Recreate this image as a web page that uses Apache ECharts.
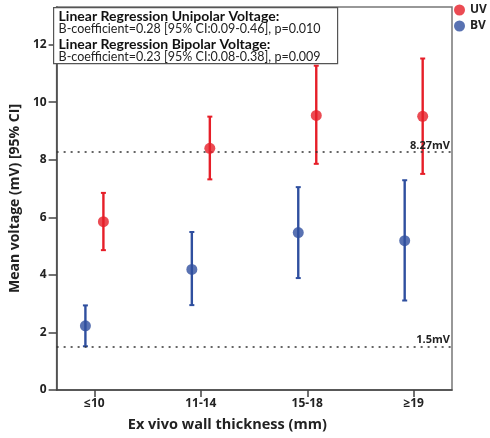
<!DOCTYPE html>
<html>
<head>
<meta charset="utf-8">
<script src="https://cdn.jsdelivr.net/npm/echarts@6/dist/echarts.min.js"></script>
<style>
  html, body { margin: 0; padding: 0; background: #fff; }
  #chart { width: 490px; height: 438px; }
</style>
</head>
<body>
<div id="chart"></div>
<script>
// Wall-thickness groups and mean voltages with 95% CI
const categories = ['≤10', '11-14', '15-18', '≥19'];
const uvMean = [5.85, 8.40, 9.54, 9.51];
const uvLow  = [4.86, 7.32, 7.86, 7.51];
const uvHigh = [6.85, 9.50, 11.27, 11.52];
const bvMean = [2.23, 4.19, 5.47, 5.19];
const bvLow  = [1.52, 2.95, 3.89, 3.11];
const bvHigh = [2.94, 5.49, 7.05, 7.29];
const yTicks = [0, 2, 4, 6, 8, 10, 12];
const refLines = [
  { value: 8.27, label: '8.27mV' },
  { value: 1.5, label: '1.5mV' }
];
const statLines = [
  'Linear Regression Unipolar Voltage:',
  'B-coefficient=0.28 [95% CI:0.09-0.46], p=0.010',
  'Linear Regression Bipolar Voltage:',
  'B-coefficient=0.23 [95% CI:0.08-0.38], p=0.009'
];

const RED = '#e61e28';
const BLUE = '#2f4f9f';
const FONT = 'Open Sans';
const BOX_FONT = 'Lato';
const UV_SHIFT = 9;   // horizontal dodge in px
const BV_SHIFT = -9;

const xs = categories.map((c, i) => i + 1);

function points(mean) { return mean.map((m, i) => [xs[i], m]); }
function ranges(lo, hi) { return lo.map((l, i) => [xs[i], l, hi[i]]); }

function errorBar(color, dx) {
  return function (params, api) {
    const x = api.value(0);
    const lo = api.coord([x, api.value(1)]);
    const hi = api.coord([x, api.value(2)]);
    const cx = lo[0] + dx;
    const cap = 2.5;
    return {
      type: 'group',
      children: [
        { type: 'line', shape: { x1: cx, y1: lo[1], x2: cx, y2: hi[1] }, style: { stroke: color, lineWidth: 2.4 } },
        { type: 'line', shape: { x1: cx - cap, y1: lo[1], x2: cx + cap, y2: lo[1] }, style: { stroke: color, lineWidth: 2 } },
        { type: 'line', shape: { x1: cx - cap, y1: hi[1], x2: cx + cap, y2: hi[1] }, style: { stroke: color, lineWidth: 2 } }
      ]
    };
  };
}

const chart = echarts.init(document.getElementById('chart'), null, { renderer: 'canvas' });

chart.setOption({
  animation: false,
  textStyle: { fontFamily: FONT },
  grid: {
    left: 54, right: 38, top: 7, bottom: 48,
    show: true, borderColor: '#777', borderWidth: 1.5, backgroundColor: 'transparent'
  },
  legend: {
    orient: 'vertical',
    left: 454, top: 4,
    padding: 0,
    itemWidth: 11, itemHeight: 11, itemGap: 4,
    icon: 'circle',
    textStyle: { fontFamily: FONT, fontWeight: 'bold', fontSize: 12, color: '#222' },
    data: ['UV', 'BV']
  },
  xAxis: {
    type: 'value',
    min: 0.645, max: 4.36,
    splitLine: { show: false },
    axisLine: { lineStyle: { color: '#444', width: 1.5 } },
    axisTick: { show: true, length: 7, lineStyle: { color: '#444', width: 1.5 }, customValues: xs },
    axisLabel: {
      customValues: xs,
      formatter: v => categories[Math.round(v) - 1] || '',
      fontFamily: FONT, fontWeight: 'bold', fontSize: 12, color: '#222', margin: 8
    },
    name: 'Ex vivo wall thickness (mm)',
    nameLocation: 'middle',
    nameGap: 27,
    nameTextStyle: { fontFamily: FONT, fontWeight: 'bold', fontSize: 14.5, color: '#222', padding: [0, 54, 0, 0] }
  },
  yAxis: {
    type: 'value',
    min: 0, max: 13.31,
    splitLine: { show: false },
    axisLine: { show: true, lineStyle: { color: '#444', width: 1.5 } },
    axisTick: { show: true, length: 8, lineStyle: { color: '#444', width: 1.5 }, customValues: yTicks },
    axisLabel: {
      customValues: yTicks,
      fontFamily: FONT, fontWeight: 'bold', fontSize: 12, color: '#222', margin: 10
    },
    name: 'Mean voltage (mV) [95% CI]',
    nameLocation: 'middle',
    nameGap: 30,
    nameTextStyle: { fontFamily: FONT, fontWeight: 'bold', fontSize: 14, color: '#222' }
  },
  graphic: [
    {
      type: 'group', left: 53, top: 7,
      children: [
        { type: 'rect', shape: { x: 0, y: 0, width: 284, height: 56 },
          style: { fill: '#fff', stroke: '#555', lineWidth: 1.2 }, z: 10 },
        { type: 'text', x: 5, y: 2, z: 11,
          style: { text: statLines[0], font: 'bold 14px ' + BOX_FONT, fill: '#111' } },
        { type: 'text', x: 5, y: 15, z: 11,
          style: { text: statLines[1], font: '12.5px ' + BOX_FONT, fill: '#222' } },
        { type: 'text', x: 5, y: 30, z: 11,
          style: { text: statLines[2], font: 'bold 14px ' + BOX_FONT, fill: '#111' } },
        { type: 'text', x: 5, y: 43, z: 11,
          style: { text: statLines[3], font: '12.5px ' + BOX_FONT, fill: '#222' } }
      ]
    }
  ],
  series: [
    {
      type: 'custom',
      name: 'UV range',
      renderItem: errorBar(RED, UV_SHIFT),
      data: ranges(uvLow, uvHigh),
      encode: { x: 0, y: [1, 2] },
      z: 2,
      markLine: {
        silent: true,
        symbol: 'none',
        lineStyle: { color: '#333', type: [2, 5], width: 1.6 },
        label: {
          position: 'insideEndTop',
          formatter: p => p.data.text,
          fontFamily: FONT, fontWeight: 'bold', fontSize: 11, color: '#222',
          distance: [2, 1]
        },
        data: refLines.map(r => ({ yAxis: r.value, text: r.label }))
      }
    },
    {
      type: 'custom',
      name: 'BV range',
      renderItem: errorBar(BLUE, BV_SHIFT),
      data: ranges(bvLow, bvHigh),
      encode: { x: 0, y: [1, 2] },
      z: 2
    },
    {
      type: 'scatter',
      name: 'UV',
      data: points(uvMean),
      symbol: 'circle',
      symbolSize: 11,
      symbolOffset: [UV_SHIFT, 0],
      itemStyle: { color: RED },
      z: 5
    },
    {
      type: 'scatter',
      name: 'BV',
      data: points(bvMean),
      symbol: 'circle',
      symbolSize: 11,
      symbolOffset: [BV_SHIFT, 0],
      itemStyle: { color: BLUE },
      z: 5
    }
  ]
});
</script>
</body>
</html>
